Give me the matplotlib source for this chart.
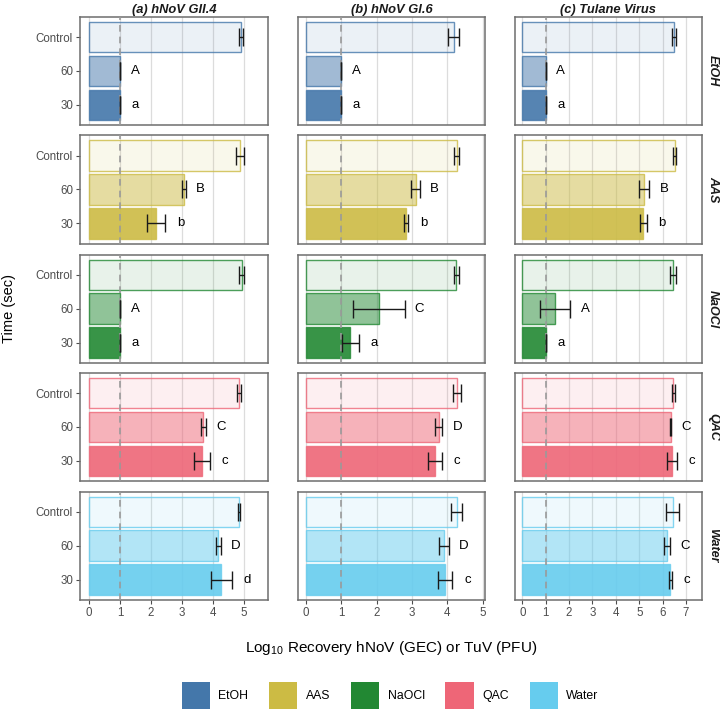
import matplotlib
matplotlib.use("Agg")
import matplotlib.pyplot as plt
from matplotlib.patches import Patch
from matplotlib.colors import to_rgba

plt.rcParams['font.family'] = ['Liberation Sans', 'DejaVu Sans']
plt.rcParams['mathtext.default'] = 'regular'

# ---------------- data ----------------
virus_titles = ['(a) hNoV GII.4', '(b) hNoV GI.6', '(c) Tulane Virus']
treatments = ['EtOH', 'AAS', 'NaOCl', 'QAC', 'Water']
times = ['Control', '60', '30']
treatment_colors = ['#4477AA', '#CCBB44', '#228833', '#EE6677', '#66CCEE']

# means per treatment: [Control, 60, 30]
gii4_means = [[4.90, 1.00, 1.00], [4.86, 3.06, 2.17], [4.92, 1.00, 1.00],
              [4.84, 3.69, 3.65], [4.83, 4.17, 4.27]]
gii4_sds = [[0.08, 0.0, 0.0], [0.13, 0.06, 0.29], [0.08, 0.0, 0.0],
            [0.06, 0.07, 0.25], [0.03, 0.08, 0.33]]
gii4_letters = [['', 'A', 'a'], ['', 'B', 'b'], ['', 'A', 'a'],
                ['', 'C', 'c'], ['', 'D', 'd']]

gi6_means = [[4.18, 1.00, 1.00], [4.26, 3.10, 2.83], [4.25, 2.06, 1.26],
             [4.26, 3.76, 3.65], [4.26, 3.90, 3.94]]
gi6_sds = [[0.16, 0.0, 0.0], [0.08, 0.12, 0.07], [0.07, 0.73, 0.24],
           [0.11, 0.10, 0.19], [0.16, 0.13, 0.20]]
gi6_letters = [['', 'A', 'a'], ['', 'B', 'b'], ['', 'C', 'a'],
               ['', 'D', 'c'], ['', 'D', 'c']]

tuv_means = [[6.50, 1.00, 1.00], [6.51, 5.20, 5.16], [6.44, 1.40, 1.00],
             [6.46, 6.35, 6.40], [6.43, 6.20, 6.33]]
tuv_sds = [[0.09, 0.0, 0.0], [0.05, 0.22, 0.15], [0.13, 0.65, 0.0],
           [0.06, 0.02, 0.22], [0.28, 0.13, 0.08]]
tuv_letters = [['', 'A', 'a'], ['', 'B', 'b'], ['', 'A', 'a'],
               ['', 'C', 'c'], ['', 'C', 'c']]

x_ticks = [[0, 1, 2, 3, 4, 5], [0, 1, 2, 3, 4, 5], [0, 1, 2, 3, 4, 5, 6, 7]]
x_limits = [(-0.29, 5.77), (-0.226, 5.06), (-0.325, 7.68)]

all_means = [gii4_means, gi6_means, tuv_means]
all_sds = [gii4_sds, gi6_sds, tuv_sds]
all_letters = [gii4_letters, gi6_letters, tuv_letters]

# ---------------- layout ----------------
W, H = 720, 712
fig = plt.figure(figsize=(W / 100, H / 100), dpi=100)

col_left = [80, 297.7, 514.7]
col_right = [268, 485, 702]
row_top = [16.7, 135.2, 254.5, 372.7, 491.5]
row_h = 108.5

alphas = [0.1, 0.5, 0.9]  # Control, 60, 30
ypos = [2, 1, 0]
tick_col = '#4D4D4D'
frame_col = '#6E6E6E'

for c in range(3):
    for r in range(5):
        l = col_left[c] / W
        w = (col_right[c] - col_left[c]) / W
        b = 1 - (row_top[r] + row_h) / H
        ax = fig.add_axes([l, b, w, row_h / H])
        col = treatment_colors[r]
        means = all_means[c][r]
        sds = all_sds[c][r]
        letters = all_letters[c][r]
        for k in range(3):
            ax.barh(ypos[k], means[k], height=0.9,
                    color=to_rgba(col, alphas[k]),
                    edgecolor=to_rgba(col, 0.8), linewidth=1.0, zorder=2)
            ax.errorbar(means[k], ypos[k], xerr=sds[k], fmt='none',
                        ecolor='#1A1A1A', elinewidth=1.0, capsize=6.8,
                        capthick=1.0, zorder=4)
            if letters[k]:
                ax.annotate(letters[k], xy=(means[k] + sds[k], ypos[k]),
                            xytext=(10.8, 0), textcoords='offset points',
                            ha='center', va='center', fontsize=9.5,
                            color='black', zorder=5)
        ax.axvline(1, color='#9A9A9A', linestyle=(0, (4, 3)), linewidth=1.2,
                   zorder=3)
        ax.set_xlim(*x_limits[c])
        ax.set_ylim(-0.6, 2.6)
        ax.set_xticks(x_ticks[c])
        ax.grid(axis='x', color='#DCDCDC', linewidth=0.9, zorder=0)
        ax.set_axisbelow(True)
        for sp in ax.spines.values():
            sp.set_color(frame_col)
            sp.set_linewidth(1.1)
        ax.set_yticks(ypos)
        if c == 0:
            ax.set_yticklabels(times)
            ax.tick_params(axis='y', length=3, color=tick_col, labelcolor=tick_col,
                           labelsize=8.3, pad=2)
        else:
            ax.tick_params(axis='y', length=0, labelleft=False)
        if r == 4:
            ax.tick_params(axis='x', length=3, color=tick_col, labelcolor=tick_col,
                           labelsize=8.3, pad=2)
        else:
            ax.tick_params(axis='x', length=0, labelbottom=False)
        if r == 0:
            ax.set_title(virus_titles[c], fontsize=9.3, fontweight='bold',
                         fontstyle='italic', color='#1A1A1A', pad=3)
        if c == 2:
            ax.text(1.0 + 11 / (col_right[c] - col_left[c]), 0.5, treatments[r],
                    transform=ax.transAxes, rotation=270, ha='center',
                    va='center', fontsize=9, fontweight='bold',
                    fontstyle='italic', color='#1A1A1A')

fig.text(391 / W, 1 - 648 / H, 'Log$_{10}$ Recovery hNoV (GEC) or TuV (PFU)',
         ha='center', va='center', fontsize=11, color='black')
fig.text(9 / W, 1 - 308 / H, 'Time (sec)', rotation=90, ha='center',
         va='center', fontsize=10.5, color='black')

handles = [Patch(facecolor=col, edgecolor='none') for col in treatment_colors]
fig.legend(handles, treatments, loc='center',
           bbox_to_anchor=(390 / W, 1 - 695.5 / H), ncol=5, frameon=False,
           handlelength=2.3, handleheight=3.1, handletextpad=0.7,
           columnspacing=1.7, fontsize=8.8)

fig.savefig('out.png', dpi=100)
